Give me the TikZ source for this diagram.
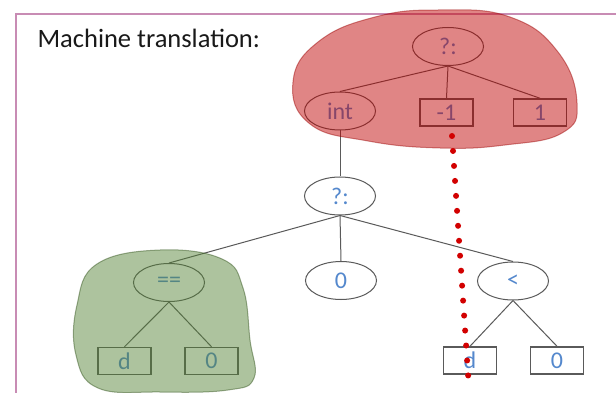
\documentclass[tikz,border=0pt]{standalone}
\usepackage{fontspec}
\setmainfont{Carlito}
\usetikzlibrary{shapes.geometric}
\definecolor{frame}{RGB}{200,140,180}
\definecolor{nodetext}{RGB}{84,136,205}
\definecolor{edgegray}{RGB}{90,90,90}
\definecolor{blobred}{RGB}{192,0,0}
\definecolor{blobgreen}{RGB}{84,130,53}
\definecolor{dotred}{RGB}{210,0,0}
\tikzset{
  ell/.style={ellipse, draw=edgegray, line width=1pt, minimum width=71pt, minimum height=38pt, inner sep=0pt, text=nodetext, font=\fontsize{24}{24}\selectfont},
  leaf/.style={rectangle, draw=edgegray, line width=1.5pt, minimum width=53pt, minimum height=27pt, inner sep=0pt, text=nodetext, font=\fontsize{24}{24}\selectfont},
  edge/.style={draw=edgegray, line width=1pt},
  redblob/.style={fill=blobred, fill opacity=0.48, draw=blobred!80!black, draw opacity=0.45, line width=1pt},
  greenblob/.style={fill=blobgreen, fill opacity=0.48, draw=blobgreen!70!black, draw opacity=0.5, line width=1pt},
  reddots/.style={draw=dotred, line width=6pt, line cap=round, dash pattern=on 0pt off 15pt}
}
\begin{document}
\begin{tikzpicture}[x=1pt,y=-1pt]
\useasboundingbox (0,0) rectangle (616,393);
\clip (0,0) rectangle (616,393);
\fill[white] (0,0) rectangle (616,393);
\draw[frame, line width=1.8pt] (16,500) -- (16,14) -- (700,14);
\node[anchor=base west, text=black!90, font=\fontsize{26.5}{26.5}\selectfont] (title) at (34,48) {Machine translation:};
% nodes
\node[ell] (root) at (448,46.5) {?:};
\node[ell] (int) at (340,111) {int};
\node[leaf] (m1) at (446.5,112.5) {-1};
\node[leaf] (p1) at (540,112.5) {1};
\node[ell] (q2) at (340,196) {?:};
\node[ell] (eq) at (169,282.5) {==};
\node[ell] (z) at (341,280.5) {0};
\node[ell] (lt) at (513,281) {<};
\node[leaf] (d1) at (124.5,361) {d};
\node[leaf] (z1) at (211.5,361) {0};
\node[leaf] (d2) at (470,360.5) {d};
\node[leaf] (z2) at (557,360.5) {0};
% edges
\draw[edge] (root.south) -- (int.north);
\draw[edge] (root.south) -- (m1.north);
\draw[edge] (root.south) -- (p1.north);
\draw[edge] (int.south) -- (q2.north);
\draw[edge] (q2.south) -- (eq.north);
\draw[edge] (q2.south) -- (z.north);
\draw[edge] (q2.south) -- (lt.north);
\draw[edge] (eq.south) -- (d1.north);
\draw[edge] (eq.south) -- (z1.north);
\draw[edge] (lt.south) -- (d2.north);
\draw[edge] (lt.south) -- (z2.north);
% blobs
\draw[redblob] plot[smooth cycle, tension=0.75] coordinates {(293,82) (318,42) (375,17) (440,10) (510,17) (558,52) (577,103) (562,133) (505,145) (440,148) (368,141) (310,124)};
\draw[greenblob] plot[smooth cycle, tension=0.7] coordinates {(77,305) (97,264) (160,250) (222,259) (243,288) (250,340) (254,378) (228,390) (160,392) (98,388) (76,355)};
% dotted line
\coordinate (dstart) at (452,136);
\coordinate (dend) at (469,388);
\draw[reddots] (dstart) -- (dend);
\end{tikzpicture}
\end{document}
